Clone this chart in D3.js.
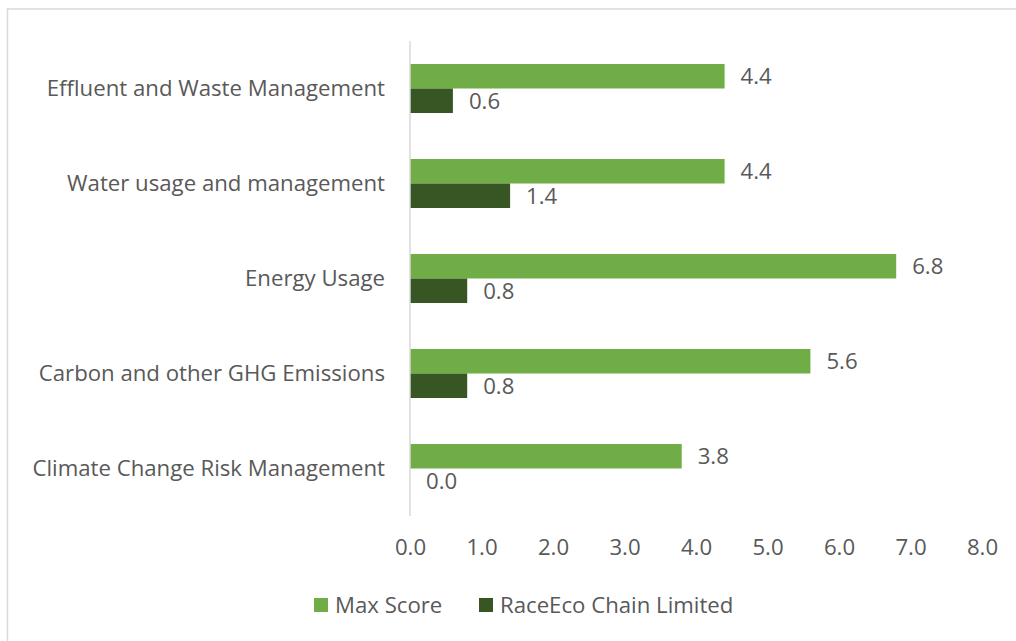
<!DOCTYPE html>
<html><head><meta charset="utf-8">
<script src="https://cdn.jsdelivr.net/npm/d3@7"></script>
<style>
body{margin:0;background:#fff;}
svg text{font-family:"Open Sans",sans-serif;fill:#595959;}
</style></head>
<body><svg id="chart" width="1016" height="641"></svg>
<script>
const categories = ["Effluent and Waste Management","Water usage and management","Energy Usage","Carbon and other GHG Emissions","Climate Change Risk Management"];
const seriesNames = ["Max Score","RaceEco Chain Limited"];
const maxScore = [4.4, 4.4, 6.8, 5.6, 3.8];
const raceEco = [0.6, 1.4, 0.8, 0.8, 0.0];
const xTicks = [0,1,2,3,4,5,6,7,8];
const colors = ["#70ad47","#375623"];
const FS = 22.2;

const svg = d3.select("#chart");
svg.append("rect").attr("x",7.5).attr("y",9).attr("width",1100).attr("height",700)
  .attr("fill","none").attr("stroke","#d9d9d9").attr("stroke-width",1.5);

const x = d3.scaleLinear().domain([0,8]).range([410,982]);
const y = d3.scaleBand().domain(categories).range([41,516]).paddingInner(0.484).paddingOuter(0.242);
const sub = d3.scaleBand().domain(seriesNames).range([0,y.bandwidth()]);
const series = [maxScore, raceEco];

seriesNames.forEach((s,si)=>{
  const g = svg.append("g");
  g.selectAll("rect").data(categories).join("rect")
    .attr("x",x(0)).attr("y",c=>y(c)+sub(s))
    .attr("width",(c,i)=>x(series[si][i])-x(0))
    .attr("height",sub.bandwidth())
    .attr("fill",colors[si]);
  g.selectAll("text").data(categories).join("text")
    .attr("x",(c,i)=>x(series[si][i])+16)
    .attr("y",c=>y(c)+sub(s)+sub.bandwidth()/2)
    .attr("dy","0.35em").attr("font-size",FS)
    .text((c,i)=>series[si][i].toFixed(1));
});

svg.append("line").attr("x1",x(0)).attr("x2",x(0)).attr("y1",41).attr("y2",516)
  .attr("stroke","#d9d9d9").attr("stroke-width",1.5);

const yAxis = svg.append("g").attr("transform",`translate(${x(0)},0)`)
  .call(d3.axisLeft(y).tickSize(0).tickPadding(25));
yAxis.select(".domain").remove();
yAxis.selectAll("text").attr("font-size",FS).style("font-family","'Open Sans',sans-serif").attr("fill","#595959");

const xAxis = svg.append("g").attr("transform","translate(0,531)")
  .call(d3.axisBottom(x).tickValues(xTicks).tickSize(0).tickPadding(8).tickFormat(d3.format(".1f")));
xAxis.select(".domain").remove();
xAxis.selectAll("text").attr("font-size",FS).style("font-family","'Open Sans',sans-serif").attr("fill","#595959");

const legX = [314, 479];
seriesNames.forEach((s,i)=>{
  svg.append("rect").attr("x",legX[i]).attr("y",598).attr("width",14).attr("height",14).attr("fill",colors[i]);
  svg.append("text").attr("x",legX[i]+21).attr("y",605).attr("dy","0.35em").attr("font-size",FS).text(s);
});
</script></body></html>
